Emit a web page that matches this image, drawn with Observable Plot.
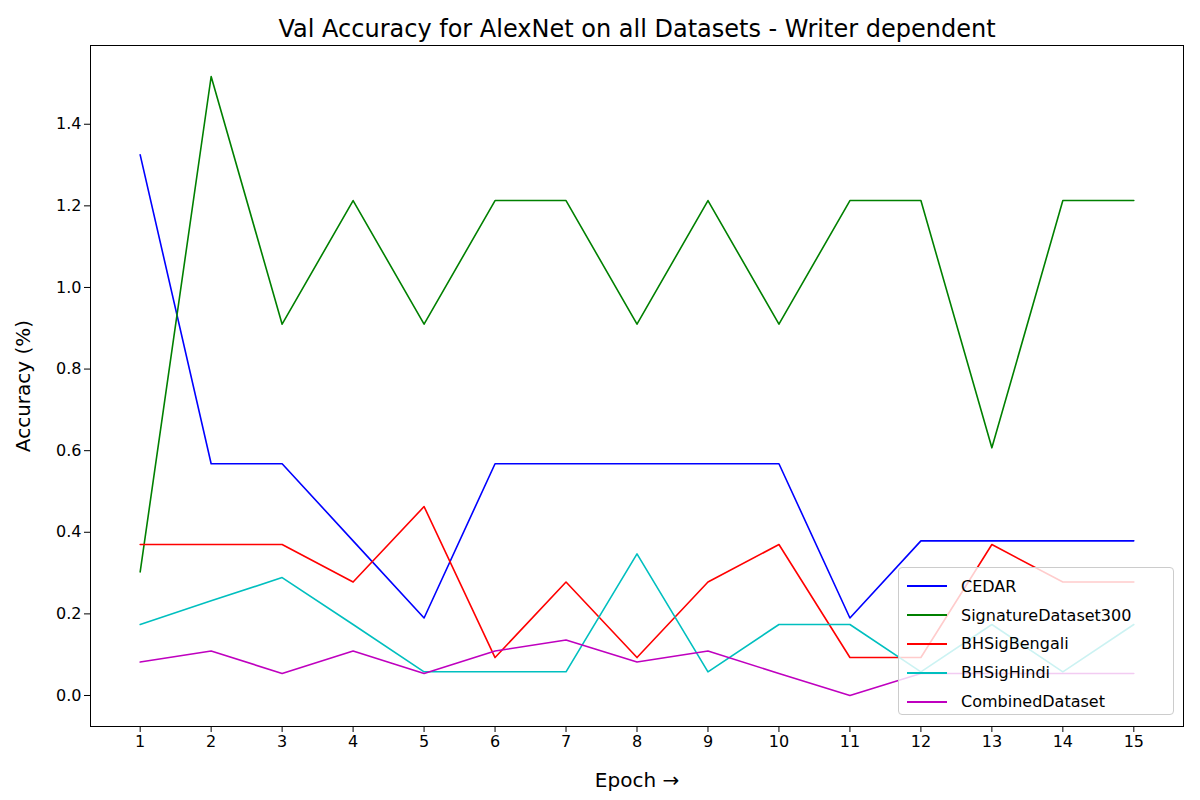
<!DOCTYPE html>
<html>
<head>
<meta charset="utf-8">
<script src="https://cdn.jsdelivr.net/npm/d3@7"></script>
<script src="https://cdn.jsdelivr.net/npm/@observablehq/plot@0.6"></script>
<style>
  body { margin: 0; background: #fff; font-family: "DejaVu Sans", sans-serif; }
  #wrap { position: relative; width: 1200px; height: 800px; }
  #legend { position: absolute; left: 898px; top: 567px; width: 276px; height: 148px;
    border: 1px solid #ccc; border-radius: 4px; background: rgba(255,255,255,0.8); box-sizing: border-box; padding-top: 4px; }
  .item { display: flex; align-items: center; height: 28.8px; font-size: 16px; color: #000; }
  .item span.sw { display: inline-block; width: 40px; height: 0; border-top: 2px solid; margin: 0 14px 0 8px; }
</style>
</head>
<body>
<div id="wrap"><div id="legend"></div></div>
<script>
const epochs = d3.range(1, 16);
const seriesNames = ["CEDAR", "SignatureDataset300", "BHSigBengali", "BHSigHindi", "CombinedDataset"];
const seriesColors = ["#0000ff", "#008000", "#ff0000", "#00bfbf", "#bf00bf"];
const cedar = [1.325, 0.568, 0.568, 0.379, 0.19, 0.568, 0.568, 0.568, 0.568, 0.568, 0.19, 0.379, 0.379, 0.379, 0.379];
const sig300 = [0.303, 1.517, 0.91, 1.213, 0.91, 1.213, 1.213, 0.91, 1.213, 0.91, 1.213, 1.213, 0.607, 1.213, 1.213];
const bengali = [0.37, 0.37, 0.37, 0.278, 0.463, 0.093, 0.278, 0.093, 0.278, 0.37, 0.093, 0.093, 0.37, 0.278, 0.278];
const hindi = [0.174, 0.232, 0.289, 0.174, 0.058, 0.058, 0.058, 0.347, 0.058, 0.174, 0.174, 0.058, 0.174, 0.058, 0.174];
const combined = [0.082, 0.109, 0.054, 0.109, 0.054, 0.109, 0.136, 0.082, 0.109, 0.054, 0.0, 0.054, 0.054, 0.054, 0.054];
const allSeries = [cedar, sig300, bengali, hindi, combined];

const rows = allSeries.flatMap((vals, s) => vals.map((v, i) => ({series: seriesNames[s], epoch: epochs[i], acc: v})));

const chart = Plot.plot({
  width: 1200, height: 800,
  marginTop: 45, marginLeft: 90, marginRight: 17, marginBottom: 74,
  style: {fontFamily: "DejaVu Sans", fontSize: "16px", color: "#000"},
  x: {domain: [0.3, 15.7], ticks: epochs, tickFormat: d => d, label: "Epoch", labelAnchor: "center", labelOffset: 60, tickSize: 6},
  y: {domain: [-0.076, 1.593], ticks: d3.range(0, 1.41, 0.2), tickFormat: d3.format(".1f"), label: "Accuracy (%)", labelAnchor: "center", labelArrow: "none", labelOffset: 75, tickSize: 6},
  color: {domain: seriesNames, range: seriesColors},
  marks: [
    Plot.frame({stroke: "#000"}),
    Plot.line(rows, {x: "epoch", y: "acc", z: "series", stroke: "series", strokeWidth: 1.6}),
    Plot.text(["Val Accuracy for AlexNet on all Datasets - Writer dependent"], {frameAnchor: "top", dy: -26, fontSize: 24, text: d => d})
  ]
});
chart.querySelectorAll('g[aria-label="x-axis label"] text, g[aria-label="y-axis label"] text').forEach(t => t.style.fontSize = "20px");
document.getElementById("wrap").prepend(chart);

const legend = document.getElementById("legend");
seriesNames.forEach((n, i) => {
  const d = document.createElement("div");
  d.className = "item";
  d.innerHTML = `<span class="sw" style="border-color:${seriesColors[i]}"></span>${n}`;
  legend.appendChild(d);
});
</script>
</body>
</html>
